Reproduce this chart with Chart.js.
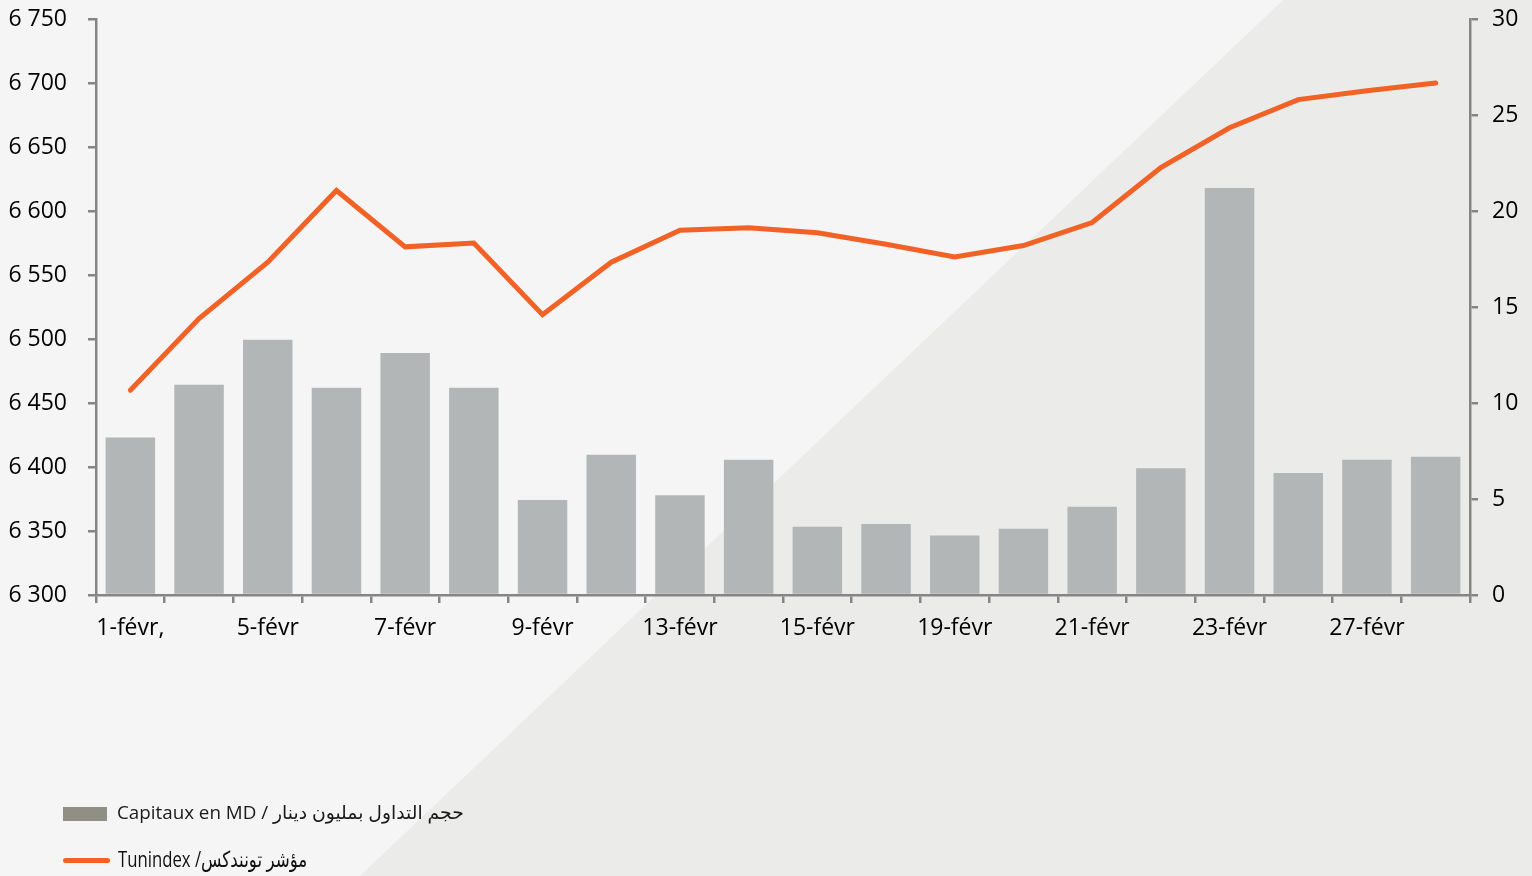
<!DOCTYPE html>
<html>
<head>
<meta charset="utf-8">
<script src="https://cdn.jsdelivr.net/npm/chart.js@4.4.1/dist/chart.umd.min.js"></script>
<style>
  html, body { margin:0; padding:0; }
  body { width:1532px; height:876px; background:#f4f5f4; position:relative; overflow:hidden; font-family:"Open Sans","DejaVu Sans",sans-serif; }
  #shade { position:absolute; left:0; top:0; width:1532px; height:876px; background:#ebebe9;
           clip-path: polygon(1283px 0, 1532px 0, 1532px 876px, 360px 876px); }
  #wrap { position:absolute; left:0; top:0; width:1532px; height:876px; }
  .sw1 { position:absolute; left:63px; top:807px; width:44px; height:14px; background:#8f8f86; }
  .sw2 { position:absolute; left:63px; top:858px; width:47px; height:5px; border-radius:3px; background:#f26125; }
  .t1 { position:absolute; left:117px; top:799px; font-size:18.8px; color:#1a1a1a; white-space:nowrap; }
  .t2 { position:absolute; left:118px; top:843px; font-size:22px; color:#111; white-space:nowrap;
        transform: scaleX(0.76); transform-origin: left center; }
</style>
</head>
<body>
<div id="shade"></div>
<div id="wrap"><canvas id="c" width="1532" height="876"></canvas></div>
<div class="sw1"></div>
<div class="t1">Capitaux en MD / حجم التداول بمليون دينار</div>
<div class="sw2"></div>
<div class="t2">Tunindex /مؤشر تونندكس</div>
<script>
const categories = ['1-févr,', '2-févr', '5-févr', '6-févr', '7-févr', '8-févr', '9-févr', '12-févr', '13-févr', '14-févr',
                    '15-févr', '16-févr', '19-févr', '20-févr', '21-févr', '22-févr', '23-févr', '26-févr', '27-févr', '28-févr'];
const capitaux = [8.2, 10.95, 13.3, 10.8, 12.6, 10.8, 4.95, 7.3, 5.2, 7.05, 3.55, 3.7, 3.1, 3.45, 4.6, 6.6, 21.2, 6.35, 7.05, 7.2];
const tunindex = [6460, 6516, 6560, 6616, 6572, 6575, 6519, 6560, 6585, 6587, 6583, 6574, 6564, 6573, 6591, 6634, 6665, 6687, 6694, 6700];
const leftTicks = { min: 6300, max: 6750, step: 50 };
const rightTicks = { min: 0, max: 30, step: 5 };

const axisColor = '#858585';
const tickFont = { family: '"Open Sans", "DejaVu Sans", sans-serif', size: 23 };
const fmt = v => String(v).replace(/\B(?=(\d{3})+(?!\d))/g, ' ');
const fixV = w => s => { s.width = w; s.paddingTop = 0; s.paddingBottom = 0; };

new Chart(document.getElementById('c'), {
  data: {
    labels: categories,
    datasets: [
      { type: 'line', label: 'Tunindex', data: tunindex, yAxisID: 'yL', order: 0,
        borderColor: '#f26125', borderWidth: 5, pointRadius: 0, tension: 0,
        borderCapStyle: 'round', borderJoinStyle: 'miter' },
      { type: 'bar', label: 'Capitaux en MD', data: capitaux, yAxisID: 'yR', order: 1,
        backgroundColor: '#b3b6b6', barPercentage: 0.72, categoryPercentage: 1.0 }
    ]
  },
  options: {
    responsive: false,
    animation: false,
    layout: { padding: { top: 19, bottom: 0, left: 0, right: 0 } },
    plugins: { legend: { display: false }, tooltip: { enabled: false } },
    scales: {
      x: {
        offset: true,
        grid: { offset: true, drawOnChartArea: false, drawTicks: true, tickLength: 8, color: axisColor, lineWidth: 2.5 },
        border: { display: true, color: axisColor, width: 2.5 },
        ticks: { autoSkip: false, maxRotation: 0, color: '#000', font: tickFont, padding: 12,
                 callback: (v, i) => (i % 2 === 0 ? categories[i] : '') },
        afterFit: s => { s.height = 876 - 595; s.paddingLeft = 0; s.paddingRight = 0; }
      },
      yL: {
        position: 'left', min: leftTicks.min, max: leftTicks.max,
        grid: { drawOnChartArea: false, drawTicks: true, tickLength: 8, color: axisColor, lineWidth: 2.5 },
        border: { display: true, color: axisColor, width: 2.5 },
        ticks: { stepSize: leftTicks.step, color: '#000', font: tickFont, padding: 21, callback: v => fmt(v) },
        afterFit: fixV(96)
      },
      yR: {
        position: 'right', min: rightTicks.min, max: rightTicks.max,
        grid: { drawOnChartArea: false, drawTicks: true, tickLength: 8, color: axisColor, lineWidth: 2.5 },
        border: { display: true, color: axisColor, width: 2.5 },
        ticks: { stepSize: rightTicks.step, color: '#000', font: tickFont, padding: 14 },
        afterFit: fixV(1532 - 1470)
      }
    }
  }
});
</script>
</body>
</html>
